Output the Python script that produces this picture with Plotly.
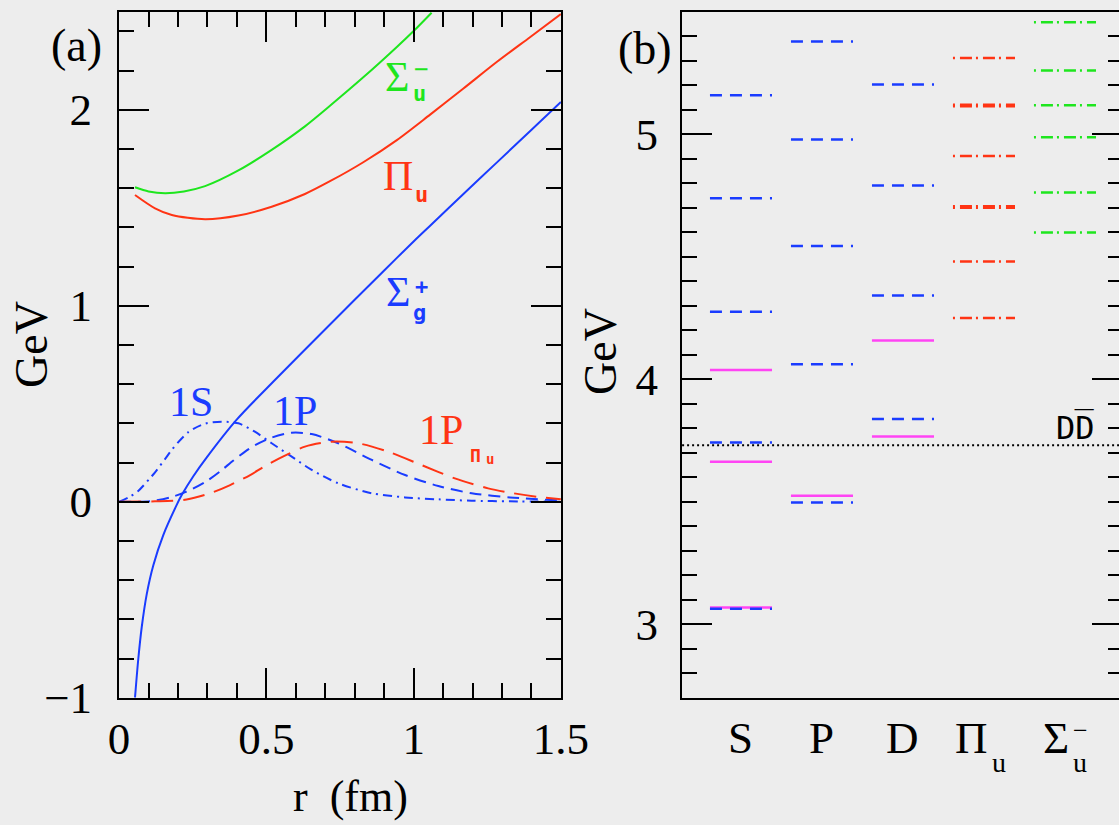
import plotly.graph_objects as go

# ---------------- data: panel (a) ----------------
r_sigma_g = [0.054, 0.065, 0.077, 0.094, 0.116, 0.15, 0.196, 0.213, 0.252, 0.297, 0.4, 0.529, 0.7, 0.9, 1.005, 1.056, 1.169, 1.282, 1.395, 1.5]
v_sigma_g = [-1.0, -0.805, -0.638, -0.47, -0.325, -0.17, -0.015, 0.035, 0.13, 0.225, 0.42, 0.621, 0.88, 1.18, 1.335, 1.408, 1.57, 1.73, 1.89, 2.04]

r_pi_u = [0.054, 0.122, 0.179, 0.292, 0.405, 0.518, 0.631, 0.716, 0.829, 0.943, 1.056, 1.169, 1.282, 1.395, 1.5]
v_pi_u = [1.565, 1.497, 1.463, 1.441, 1.46, 1.505, 1.57, 1.635, 1.732, 1.845, 1.975, 2.108, 2.243, 2.37, 2.488]

r_sigma_u = [0.054, 0.1, 0.156, 0.22, 0.292, 0.405, 0.518, 0.631, 0.716, 0.829, 0.943, 0.999, 1.061]
v_sigma_u = [1.604, 1.583, 1.574, 1.583, 1.61, 1.69, 1.795, 1.915, 2.02, 2.165, 2.32, 2.40, 2.495]

r_1s = [0.0, 0.037, 0.065, 0.105, 0.122, 0.162, 0.179, 0.235, 0.292, 0.348, 0.405, 0.461, 0.518, 0.586, 0.654, 0.744, 0.858, 0.971, 1.084, 1.197, 1.327, 1.5]
v_1s = [0.0, 0.026, 0.055, 0.12, 0.15, 0.23, 0.265, 0.355, 0.398, 0.408, 0.4, 0.357, 0.298, 0.23, 0.162, 0.094, 0.043, 0.022, 0.012, 0.005, 0.002, 0.0]

r_1p = [0.0, 0.105, 0.173, 0.229, 0.297, 0.343, 0.388, 0.43, 0.461, 0.518, 0.586, 0.654, 0.744, 0.858, 0.971, 1.084, 1.197, 1.327, 1.5]
v_1p = [0.0, 0.002, 0.022, 0.051, 0.105, 0.155, 0.21, 0.258, 0.288, 0.327, 0.352, 0.345, 0.298, 0.213, 0.136, 0.08, 0.043, 0.022, 0.006]

r_1p_piu = [0.0, 0.122, 0.229, 0.309, 0.377, 0.445, 0.501, 0.57, 0.631, 0.721, 0.812, 0.914, 1.027, 1.14, 1.253, 1.327, 1.42, 1.5]
v_1p_piu = [0.0, 0.002, 0.011, 0.043, 0.085, 0.136, 0.187, 0.24, 0.281, 0.306, 0.298, 0.255, 0.187, 0.119, 0.068, 0.046, 0.025, 0.012]

# ---------------- data: panel (b) ----------------
categories = ["S", "P", "D", "Π", "Σ"]
cat_sub = ["", "", "", "u", "u"]
cat_sup = ["", "", "", "", "−"]
cat_pos = [1, 2, 3, 4, 5]

s_model = [3.063, 3.742, 4.275, 4.739, 5.159]
s_exp = [3.068, 3.663, 4.038]
p_model = [3.497, 4.061, 4.544, 4.978, 5.378]
p_exp = [3.524]
d_model = [3.838, 4.342, 4.791, 5.203]
d_exp = [3.766, 4.158]
piu_levels = [4.250, 4.480, 4.700, 4.706, 4.911, 5.114, 5.120, 5.311]
sigu_levels = [4.599, 4.762, 4.988, 5.118, 5.260, 5.457]
dd_threshold = 3.73

# ---------------- styling ----------------
W, H = 1119, 825
BG = "#ededed"
BLUE = "#1a3cff"
RED = "#ff3414"
GREEN = "#1ee61e"
MAGENTA = "#ff44f4"
SERIF = "Liberation Serif"
MONO = "DejaVu Sans Mono"
HALF = 0.383  # half width of a level bar (category units)


def fx(px):
    return px / W


def fy(py):
    return 1 - py / H


def segments(pos, values):
    xs, ys = [], []
    for v in values:
        xs += [pos - HALF, pos + HALF, None]
        ys += [v, v, None]
    return xs, ys


fig = go.Figure()

# panel (a) curves
curve_specs = [
    (r_sigma_g, v_sigma_g, BLUE, "solid"),
    (r_pi_u, v_pi_u, RED, "solid"),
    (r_sigma_u, v_sigma_u, GREEN, "solid"),
    (r_1s, v_1s, BLUE, "9px,5px,2px,5px"),
    (r_1p, v_1p, BLUE, "12px,7px"),
    (r_1p_piu, v_1p_piu, RED, "22px,10px"),
]
for xs, ys, col, dash in curve_specs:
    fig.add_trace(go.Scatter(x=xs, y=ys, mode="lines", xaxis="x", yaxis="y",
                             line=dict(color=col, width=2, dash=dash, shape="spline", smoothing=0.8),
                             hoverinfo="skip", showlegend=False))

# panel (b) levels
level_specs = [
    (cat_pos[0], s_exp, MAGENTA, "solid"),
    (cat_pos[0], s_model, BLUE, "12px,8px"),
    (cat_pos[1], p_exp, MAGENTA, "solid"),
    (cat_pos[1], p_model, BLUE, "12px,8px"),
    (cat_pos[2], d_exp, MAGENTA, "solid"),
    (cat_pos[2], d_model, BLUE, "12px,8px"),
    (cat_pos[3], piu_levels, RED, "2px,5px,12px,4px"),
    (cat_pos[4], sigu_levels, GREEN, "2px,5px,12px,4px"),
]
for pos, vals, col, dash in level_specs:
    xs, ys = segments(pos, vals)
    fig.add_trace(go.Scatter(x=xs, y=ys, mode="lines", xaxis="x2", yaxis="y2",
                             line=dict(color=col, width=2.5, dash=dash),
                             hoverinfo="skip", showlegend=False))

fig.add_trace(go.Scatter(x=[None], y=[None], xaxis="x2", yaxis="y3", showlegend=False))

fig.add_shape(type="line", xref="x2 domain", x0=0, x1=1, yref="y2", y0=dd_threshold, y1=dd_threshold,
              line=dict(color="black", width=2, dash="2px,3px"))

# ---------------- axes ----------------
tickfont = dict(family=SERIF, size=45, color="black")
common = dict(showline=True, linecolor="black", linewidth=2, ticks="inside", tickwidth=2,
              tickcolor="black", showgrid=False, zeroline=False, tickfont=tickfont,
              automargin=False)

ydom = [fy(697.7), fy(11.7)]

fig.update_layout(
    width=W, height=H,
    margin=dict(l=0, r=0, t=0, b=0, pad=0, autoexpand=False),
    paper_bgcolor=BG, plot_bgcolor=BG,
    showlegend=False,
    xaxis=dict(**common, domain=[fx(119.1), fx(560.9)], range=[0, 1.5], tick0=0, dtick=0.5,
               ticklen=30, mirror="ticks", anchor="y", ticklabelstandoff=0,
               minor=dict(tick0=0, dtick=0.1, ticklen=15, tickwidth=2, tickcolor="black", ticks="inside")),
    yaxis=dict(**common, domain=ydom, range=[-1, 2.5], tick0=0, dtick=1,
               ticklen=30, mirror="ticks", anchor="x", ticklabelstandoff=16,
               minor=dict(tick0=0, dtick=0.2, ticklen=15, tickwidth=2, tickcolor="black", ticks="inside")),
    xaxis2=dict(showline=True, linecolor="black", linewidth=2, mirror=True, ticks="",
                showticklabels=False, showgrid=False, zeroline=False, automargin=False,
                domain=[fx(682.1), 1.0], range=[0.273, 5.667], anchor="y2"),
    yaxis2=dict(**common, domain=ydom, range=[2.7, 5.5], tick0=3, dtick=1, ticklen=30,
                mirror=False, anchor="x2", ticklabelstandoff=13,
                minor=dict(tick0=3, dtick=0.1, ticklen=15, tickwidth=2, tickcolor="black", ticks="inside")),
    yaxis3=dict(overlaying="y2", side="right", anchor="free", position=1.0, range=[2.7, 5.5],
                showline=False, ticks="inside", tickwidth=2, tickcolor="black", ticklen=27,
                tick0=3, dtick=1, showticklabels=False, showgrid=False, zeroline=False, automargin=False,
                minor=dict(tick0=3, dtick=0.1, ticklen=11, tickwidth=2, tickcolor="black", ticks="inside")),
)

# ---------------- annotations ----------------
ann = []


def add_text(text, px, py, size, color="black", family=SERIF, angle=0, xanchor="center", yanchor="middle"):
    ann.append(dict(text=text, x=fx(px), y=fy(py), xref="paper", yref="paper", showarrow=False,
                    xanchor=xanchor, yanchor=yanchor, textangle=angle,
                    font=dict(family=family, size=size, color=color)))


# panel labels and axis titles
add_text("(a)", 76, 45, 46)
add_text("(b)", 645, 48, 46)
add_text("GeV", 31, 345, 46, angle=-90)
add_text("GeV", 600, 352, 46, angle=-90)
add_text("r\u00a0\u00a0(fm)", 350, 823, 44, yanchor="bottom")

# curve labels panel (a)
add_text("Σ", 397, 77, 42, GREEN)
add_text("<b>u</b>", 420, 94, 22, GREEN, MONO)
add_text("−", 421, 69, 24, GREEN, MONO)
add_text("Π", 398, 176, 42, RED)
add_text("<b>u</b>", 421, 195, 22, RED, MONO)
add_text("Σ", 398, 292, 42, BLUE)
add_text("<b>g</b>", 419, 312, 22, BLUE, MONO)
add_text("<b>+</b>", 421, 286, 22, BLUE, MONO)
add_text("1S", 191, 402, 42, BLUE)
add_text("1P", 295, 411, 42, BLUE)
add_text("1P", 441, 430, 42, RED)
add_text("<b>Π</b>", 475, 455, 18, RED, MONO)
add_text("<b>u</b>", 490, 459, 14, RED, MONO)

# DD-bar threshold label
add_text("DD\u0305", 1075, 427, 32, "black", MONO)

fig.update_layout(annotations=ann)

# category labels panel (b)
for name, sub, sup, pos in zip(categories, cat_sub, cat_sup, cat_pos):
    if sub:
        fig.add_annotation(text=name, x=pos, y=fy(738), xref="x2", yref="paper", showarrow=False,
                           xanchor="right", yanchor="middle", xshift=6,
                           font=dict(family=SERIF, size=45, color="black"))
        fig.add_annotation(text=sub, x=pos, y=fy(762), xref="x2", yref="paper", showarrow=False,
                           xanchor="left", yanchor="middle", xshift=6,
                           font=dict(family=SERIF, size=28, color="black"))
    else:
        fig.add_annotation(text=name, x=pos, y=fy(738), xref="x2", yref="paper", showarrow=False,
                           xanchor="center", yanchor="middle",
                           font=dict(family=SERIF, size=45, color="black"))
    if sup:
        fig.add_annotation(text=sup, x=pos, y=fy(730), xref="x2", yref="paper", showarrow=False,
                           xanchor="left", yanchor="middle", xshift=6,
                           font=dict(family=SERIF, size=26, color="black"))

fig.write_html("out.html", config={"displayModeBar": False},
               post_script="document.body.style.margin='0';document.body.style.overflow='hidden';")
